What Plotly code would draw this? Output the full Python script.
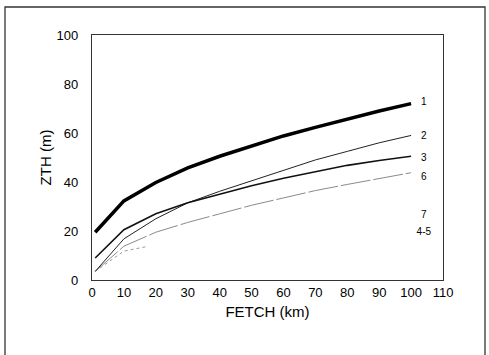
import plotly.graph_objects as go

fetch = [1, 10, 20, 30, 40, 50, 60, 70, 80, 90, 100]
zth_1 = [19.5, 32.3, 39.8, 45.8, 50.5, 54.8, 58.8, 62.3, 65.8, 69.0, 72.0]
zth_2 = [3.5, 16.8, 25.0, 31.5, 36.2, 40.5, 45.0, 49.0, 52.5, 56.0, 59.0]
zth_3 = [9.0, 20.5, 27.0, 31.5, 35.0, 38.5, 41.5, 44.2, 46.8, 48.8, 50.5]
zth_6 = [3.5, 13.8, 19.5, 23.5, 27.0, 30.5, 33.5, 36.5, 39.0, 41.5, 43.8]
fetch_7 = [1, 10, 17]
zth_7 = [3.5, 11.8, 13.6]

labels = ["1", "2", "3", "6", "7", "4-5"]
label_y = [72.5, 58.5, 49.5, 42.0, 26.5, 19.5]
label_x = 104

fig = go.Figure()
fig.add_trace(go.Scatter(x=fetch, y=zth_6, mode="lines",
                         line=dict(color="#8a8a8a", width=1, dash="30px,3px")))
fig.add_trace(go.Scatter(x=fetch_7, y=zth_7, mode="lines",
                         line=dict(color="#9a9a9a", width=1, dash="dot")))
fig.add_trace(go.Scatter(x=fetch, y=zth_2, mode="lines",
                         line=dict(color="#222222", width=1)))
fig.add_trace(go.Scatter(x=fetch, y=zth_3, mode="lines",
                         line=dict(color="#111111", width=1.6)))
fig.add_trace(go.Scatter(x=fetch, y=zth_1, mode="lines",
                         line=dict(color="#000000", width=3.5)))
fig.add_trace(go.Scatter(x=[label_x] * len(labels), y=label_y, mode="text",
                         text=labels, textfont=dict(size=10, color="#000000",
                                                    family="Liberation Sans"),
                         textposition="middle center"))

fig.update_layout(
    width=489, height=355,
    margin=dict(l=92, r=46, t=35, b=75),
    paper_bgcolor="white", plot_bgcolor="white",
    showlegend=False,
    font=dict(family="Liberation Sans, Arial, sans-serif", color="#000000"),
    xaxis=dict(range=[0, 110], tickmode="array", tickvals=list(range(0, 111, 10)),
               showgrid=False, zeroline=False, showline=True, linecolor="#333333",
               linewidth=1.2, mirror=True, ticks="", tickfont=dict(size=13),
               title=dict(text="FETCH (km)", font=dict(size=15), standoff=7)),
    yaxis=dict(range=[0, 100], tickmode="array", tickvals=list(range(0, 101, 20)),
               showgrid=False, zeroline=False, showline=True, linecolor="#333333",
               linewidth=1.2, mirror=True, ticks="", tickfont=dict(size=13),
               ticklabelstandoff=10,
               title=dict(text="ZTH (m)", font=dict(size=15), standoff=1)),
)
fig.add_shape(type="rect", xref="paper", yref="paper",
              x0=(5 - 92) / 351, x1=(485 - 92) / 351,
              y0=(280 - 360) / 245, y1=(280 - 7) / 245,
              line=dict(color="#333333", width=1.3), layer="below")
fig.write_html("out.html")
